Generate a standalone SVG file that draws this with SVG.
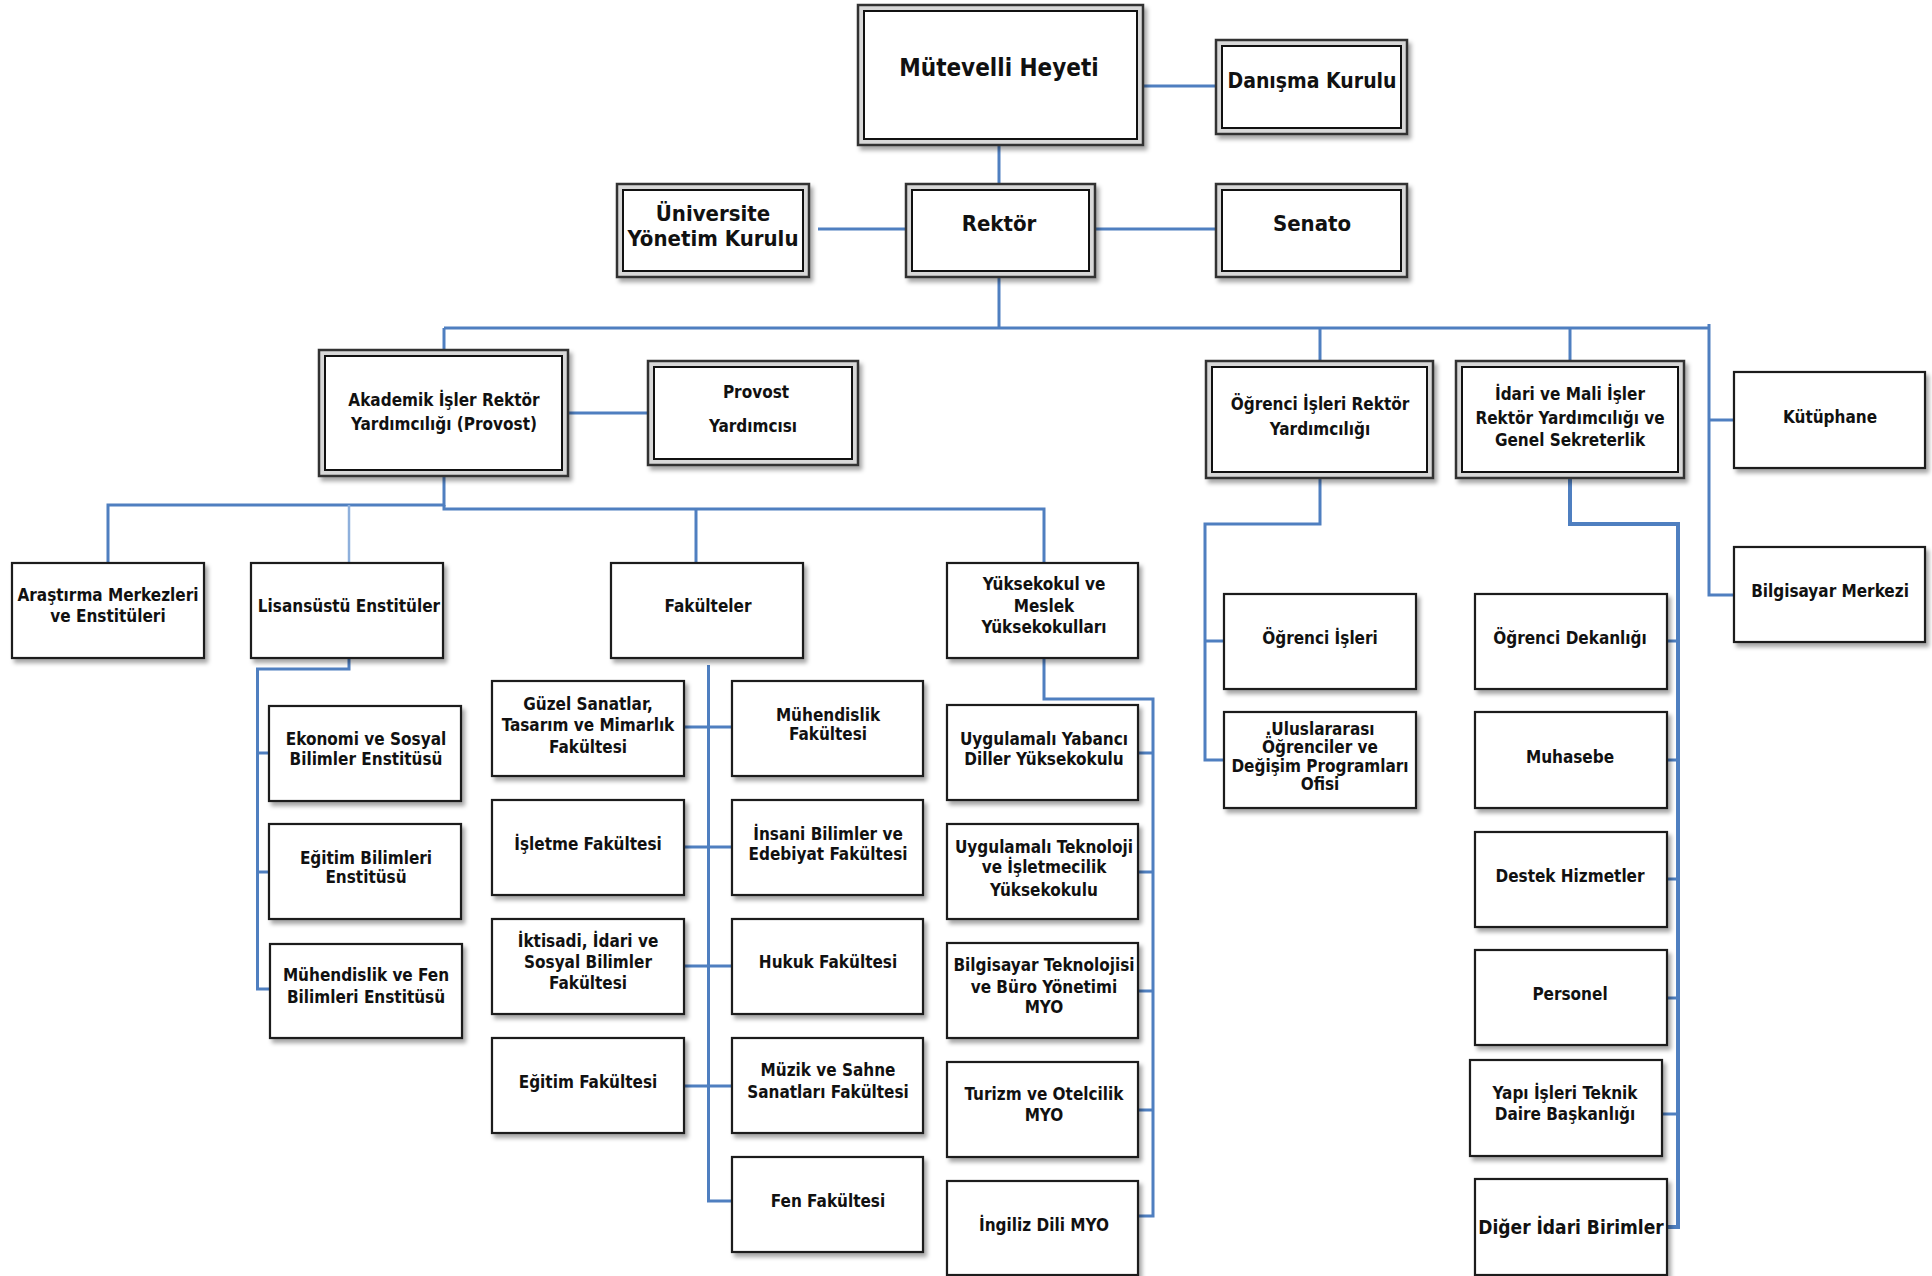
<svg xmlns="http://www.w3.org/2000/svg" width="1932" height="1276" viewBox="0 0 1932 1276">
<style>
.bg{fill:#fff}
.box{fill:#fff;stroke:#1a1a1a;stroke-width:2.2;filter:url(#sh)}
.dbo{fill:#d8d8d8;stroke:#333;stroke-width:2.5;filter:url(#sh)}
.dbi{fill:#fff;stroke:#111;stroke-width:2}
.t{font-family:"Liberation Sans Narrow","DejaVu Sans Condensed","Liberation Sans",sans-serif;font-weight:bold;font-size:17px;fill:#111;text-anchor:middle;dominant-baseline:central}
.t22{font-size:22px}
.t26{font-size:24px}
.c{fill:none;stroke:#4f7fc0;stroke-width:3}
.cl{fill:none;stroke:#8eb0dc;stroke-width:2.5}
.ct{fill:none;stroke:#4f7fc0;stroke-width:4}
</style>
<defs>
<filter id="sh" x="-10%" y="-10%" width="130%" height="130%">
<feDropShadow dx="3" dy="4" stdDeviation="2" flood-color="#000" flood-opacity="0.35"/>
</filter>
</defs>
<rect class="bg" x="0" y="0" width="1932" height="1276"/>
<g id="connectors">
<path class="c" d="M1143 86H1216"/>
<path class="c" d="M999 145V184"/>
<path class="c" d="M818 229H906"/>
<path class="c" d="M1095 229H1216"/>
<path class="c" d="M999 277V328"/>
<path class="c" d="M444 328H1709"/>
<path class="c" d="M444 328V350"/>
<path class="c" d="M1320 328V361"/>
<path class="c" d="M1570 328V361"/>
<path class="c" d="M1709 324V595H1734"/>
<path class="c" d="M1709 420H1734"/>
<path class="c" d="M568 413H648"/>
<path class="c" d="M444 476V505H108V563"/>
<path class="c" d="M444 505V509H1044V563"/>
<path class="cl" d="M349 505V563"/>
<path class="c" d="M696 509V563"/>
<path class="c" d="M349 658V669H257.5V989H270"/>
<path class="c" d="M257.5 753H269"/>
<path class="c" d="M257.5 872H269"/>
<path class="c" d="M708.5 665V1201H732"/>
<path class="c" d="M684 727H732"/>
<path class="c" d="M684 847H732"/>
<path class="c" d="M684 966H732"/>
<path class="c" d="M684 1086H732"/>
<path class="c" d="M1044 658V699H1153V1216H1138"/>
<path class="c" d="M1153 753H1138"/>
<path class="c" d="M1153 872H1138"/>
<path class="c" d="M1153 991H1138"/>
<path class="c" d="M1153 1110H1138"/>
<path class="c" d="M1320 478V524H1205V760H1224"/>
<path class="c" d="M1205 641H1224"/>
<path class="ct" d="M1570 478V524H1678V1227H1667"/>
<path class="c" d="M1678 641H1667"/>
<path class="c" d="M1678 760H1667"/>
<path class="c" d="M1678 879H1667"/>
<path class="c" d="M1678 998H1667"/>
<path class="c" d="M1678 1114H1662"/>
</g>
<g id="n-mutevelli"><rect class="dbo" x="858" y="5" width="285" height="140"/><rect class="dbi" x="864" y="11" width="273" height="128"/><text class="t t26" x="999" y="68">Mütevelli Heyeti</text></g>
<g id="n-danisma"><rect class="dbo" x="1216" y="40" width="191" height="94"/><rect class="dbi" x="1222" y="46" width="179" height="82"/><text class="t" x="1312" y="81" style="font-size:21px">Danışma Kurulu</text></g>
<g id="n-uyk"><rect class="dbo" x="617" y="184" width="192" height="93"/><rect class="dbi" x="623" y="190" width="180" height="81"/><text class="t t22" x="713" y="213">Üniversite</text><text class="t t22" x="713" y="238">Yönetim Kurulu</text></g>
<g id="n-rektor"><rect class="dbo" x="906" y="184" width="189" height="93"/><rect class="dbi" x="912" y="190" width="177" height="81"/><text class="t t22" x="999" y="223">Rektör</text></g>
<g id="n-senato"><rect class="dbo" x="1216" y="184" width="191" height="93"/><rect class="dbi" x="1222" y="190" width="179" height="81"/><text class="t t22" x="1312" y="223">Senato</text></g>
<g id="n-akademik"><rect class="dbo" x="319" y="350" width="249" height="126"/><rect class="dbi" x="325" y="356" width="237" height="114"/><text class="t" x="444" y="400">Akademik İşler Rektör</text><text class="t" x="444" y="424">Yardımcılığı (Provost)</text></g>
<g id="n-provost"><rect class="dbo" x="648" y="361" width="210" height="104"/><rect class="dbi" x="654" y="367" width="198" height="92"/><text class="t" x="756" y="392">Provost</text><text class="t" x="753" y="426">Yardımcısı</text></g>
<g id="n-ogrry"><rect class="dbo" x="1206" y="361" width="227" height="117"/><rect class="dbi" x="1212" y="367" width="215" height="105"/><text class="t" x="1320" y="404">Öğrenci İşleri Rektör</text><text class="t" x="1320" y="429">Yardımcılığı</text></g>
<g id="n-idari"><rect class="dbo" x="1456" y="361" width="228" height="117"/><rect class="dbi" x="1462" y="367" width="216" height="105"/><text class="t" x="1570" y="394">İdari ve Mali İşler</text><text class="t" x="1570" y="418">Rektör Yardımcılığı ve</text><text class="t" x="1570" y="440">Genel Sekreterlik</text></g>
<g id="n-kutuphane"><rect class="box" x="1734" y="372" width="191" height="96"/><text class="t" x="1830" y="417">Kütüphane</text></g>
<g id="n-bilgisayar-merkezi"><rect class="box" x="1734" y="547" width="191" height="95"/><text class="t" x="1830" y="591">Bilgisayar Merkezi</text></g>
<g id="n-arastirma"><rect class="box" x="12" y="563" width="192" height="95"/><text class="t" x="108" y="595">Araştırma Merkezleri</text><text class="t" x="108" y="616">ve Enstitüleri</text></g>
<g id="n-lisansustu"><rect class="box" x="251" y="563" width="192" height="95"/><text class="t" x="349" y="606">Lisansüstü Enstitüler</text></g>
<g id="n-fakulteler"><rect class="box" x="611" y="563" width="192" height="95"/><text class="t" x="708" y="606">Fakülteler</text></g>
<g id="n-yuksekokul"><rect class="box" x="947" y="563" width="191" height="95"/><text class="t" x="1044" y="584">Yüksekokul ve</text><text class="t" x="1044" y="606">Meslek</text><text class="t" x="1044" y="627">Yüksekokulları</text></g>
<g id="n-ekonomi"><rect class="box" x="269" y="706" width="192" height="95"/><text class="t" x="366" y="739">Ekonomi ve Sosyal</text><text class="t" x="366" y="759">Bilimler Enstitüsü</text></g>
<g id="n-egitim-bil"><rect class="box" x="269" y="824" width="192" height="95"/><text class="t" x="366" y="858">Eğitim Bilimleri</text><text class="t" x="366" y="877">Enstitüsü</text></g>
<g id="n-muh-fen"><rect class="box" x="270" y="944" width="192" height="94"/><text class="t" x="366" y="975">Mühendislik ve Fen</text><text class="t" x="366" y="997">Bilimleri Enstitüsü</text></g>
<g id="n-guzel"><rect class="box" x="492" y="681" width="192" height="95"/><text class="t" x="588" y="704">Güzel Sanatlar,</text><text class="t" x="588" y="725">Tasarım ve Mimarlık</text><text class="t" x="588" y="747">Fakültesi</text></g>
<g id="n-muhendislik"><rect class="box" x="732" y="681" width="191" height="95"/><text class="t" x="828" y="715">Mühendislik</text><text class="t" x="828" y="734">Fakültesi</text></g>
<g id="n-isletme"><rect class="box" x="492" y="800" width="192" height="95"/><text class="t" x="588" y="844">İşletme Fakültesi</text></g>
<g id="n-insani"><rect class="box" x="732" y="800" width="191" height="95"/><text class="t" x="828" y="834">İnsani Bilimler ve</text><text class="t" x="828" y="854">Edebiyat Fakültesi</text></g>
<g id="n-iktisadi"><rect class="box" x="492" y="919" width="192" height="95"/><text class="t" x="588" y="941">İktisadi, İdari ve</text><text class="t" x="588" y="962">Sosyal Bilimler</text><text class="t" x="588" y="983">Fakültesi</text></g>
<g id="n-hukuk"><rect class="box" x="732" y="919" width="191" height="95"/><text class="t" x="828" y="962">Hukuk Fakültesi</text></g>
<g id="n-egitim-fak"><rect class="box" x="492" y="1038" width="192" height="95"/><text class="t" x="588" y="1082">Eğitim Fakültesi</text></g>
<g id="n-muzik"><rect class="box" x="732" y="1038" width="191" height="95"/><text class="t" x="828" y="1070">Müzik ve Sahne</text><text class="t" x="828" y="1092">Sanatları Fakültesi</text></g>
<g id="n-fen"><rect class="box" x="732" y="1157" width="191" height="95"/><text class="t" x="828" y="1201">Fen Fakültesi</text></g>
<g id="n-uyd"><rect class="box" x="947" y="705" width="191" height="95"/><text class="t" x="1044" y="739">Uygulamalı Yabancı</text><text class="t" x="1044" y="759">Diller Yüksekokulu</text></g>
<g id="n-uti"><rect class="box" x="947" y="824" width="191" height="95"/><text class="t" x="1044" y="847">Uygulamalı Teknoloji</text><text class="t" x="1044" y="867">ve İşletmecilik</text><text class="t" x="1044" y="890">Yüksekokulu</text></g>
<g id="n-btby"><rect class="box" x="947" y="943" width="191" height="95"/><text class="t" x="1044" y="965">Bilgisayar Teknolojisi</text><text class="t" x="1044" y="987">ve Büro Yönetimi</text><text class="t" x="1044" y="1007">MYO</text></g>
<g id="n-turizm"><rect class="box" x="947" y="1062" width="191" height="95"/><text class="t" x="1044" y="1094">Turizm ve Otelcilik</text><text class="t" x="1044" y="1115">MYO</text></g>
<g id="n-ingiliz"><rect class="box" x="947" y="1181" width="191" height="94"/><text class="t" x="1044" y="1225">İngiliz Dili MYO</text></g>
<g id="n-ogrenci-isleri"><rect class="box" x="1224" y="594" width="192" height="95"/><text class="t" x="1320" y="638">Öğrenci İşleri</text></g>
<g id="n-uluslararasi"><rect class="box" x="1224" y="712" width="192" height="96"/><text class="t" x="1320" y="729">.Uluslararası</text><text class="t" x="1320" y="747">Öğrenciler ve</text><text class="t" x="1320" y="766">Değişim Programları</text><text class="t" x="1320" y="784">Ofisi</text></g>
<g id="n-dekanlik"><rect class="box" x="1475" y="594" width="192" height="95"/><text class="t" x="1570" y="638">Öğrenci Dekanlığı</text></g>
<g id="n-muhasebe"><rect class="box" x="1475" y="712" width="192" height="96"/><text class="t" x="1570" y="757">Muhasebe</text></g>
<g id="n-destek"><rect class="box" x="1475" y="832" width="192" height="95"/><text class="t" x="1570" y="876">Destek Hizmetler</text></g>
<g id="n-personel"><rect class="box" x="1475" y="950" width="192" height="95"/><text class="t" x="1570" y="994">Personel</text></g>
<g id="n-yapi"><rect class="box" x="1470" y="1060" width="192" height="96"/><text class="t" x="1565" y="1093">Yapı İşleri Teknik</text><text class="t" x="1565" y="1114">Daire Başkanlığı</text></g>
<g id="n-diger"><rect class="box" x="1475" y="1179" width="192" height="96"/><text class="t" x="1571" y="1227" style="font-size:19px">Diğer İdari Birimler</text></g>
</svg>
